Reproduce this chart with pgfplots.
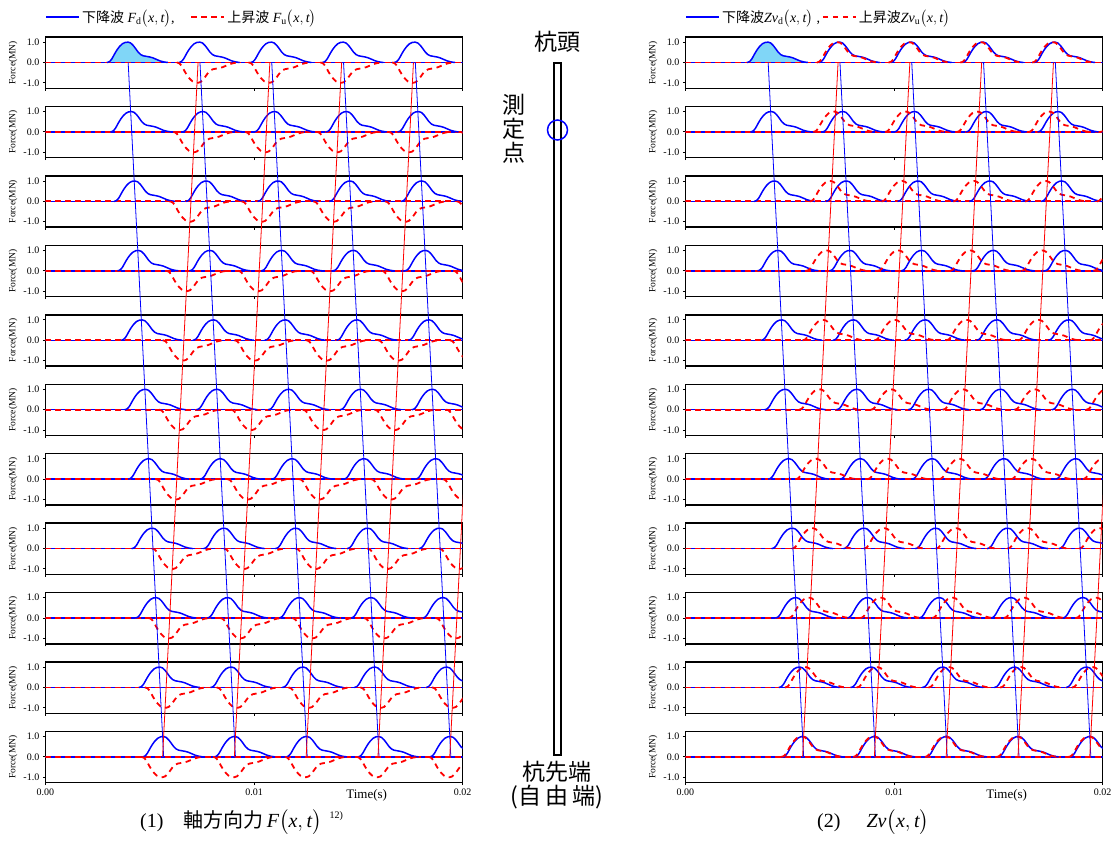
\documentclass[border=0pt]{standalone}
\usepackage{fontspec}
\usepackage{amsmath}
\usepackage{pgfplots}
\usepackage{pgfplotstable}
\pgfplotsset{compat=1.18}
\setmainfont{Liberation Serif}
\newfontfamily\cjk{Noto Sans CJK JP}
\newcommand{\mi}[1]{\textit{#1}}

% pulse shape, time in ms relative to the peak
\pgfplotstableread{
t      fd     fu
-1.02  0      0
-0.90  0.04  -0.04
-0.78  0.18  -0.18
-0.64  0.44  -0.44
-0.52  0.64  -0.64
-0.40  0.80  -0.80
-0.28  0.92  -0.92
-0.14  0.99  -0.99
 0.00  1.00  -1.00
 0.12  0.96  -0.96
 0.24  0.84  -0.84
 0.36  0.68  -0.68
 0.48  0.51  -0.51
 0.60  0.39  -0.39
 0.72  0.33  -0.33
 0.88  0.30  -0.30
 1.04  0.27  -0.27
 1.18  0.23  -0.23
 1.34  0.16  -0.16
 1.52  0.08  -0.08
 1.70  0.03  -0.03
 1.90  0      0
}\pulse

\pgfplotsset{
  bw/.style={blue, line width=1.5pt},
  rw/.style={red, line width=1.8pt, dash pattern=on 5.5pt off 4.5pt},
  thinb/.style={blue, line width=0.8pt},
  thinr/.style={red, line width=0.8pt},
  legend image code/.code={\draw[#1] (0pt,0pt) -- (33pt,0pt);},
  rowax/.style={
    scale only axis, width=417.4pt, height=51.2pt, anchor=south west,
    xmin=0, xmax=20, ymin=-1.27, ymax=1.25,
    axis line style={line width=1.5pt},
    xtick={0,10,20}, ytick={-1,0,1}, yticklabels={-1.0,0.0,1.0},
    tick pos=left, tick align=outside, major tick length=2.5pt,
    tick style={black, line width=1pt},
    ticklabel style={font=\fontsize{10}{11}\selectfont},
    ylabel={Force(MN)},
    ylabel style={font=\fontsize{9.5}{10}\selectfont,
      at={(axis description cs:-0.077,0.5)}, anchor=center},
  },
  midrow/.style={xticklabels={}},
  botrow/.style={xticklabels={0.00,0.01,0.02}, xlabel={Time(s)},
    xlabel style={font=\fontsize{13}{14}\selectfont,
      at={(axis description cs:0.77,0)}, anchor=north, yshift=-3pt}},
  ovax/.style={
    scale only axis, width=417.4pt, height=745.7pt, anchor=south west,
    xmin=0, xmax=20, ymin=-10.3744, ymax=0.3643, hide axis,
    legend columns=2, legend cell align=left,
    legend style={draw=none, fill=none, at={(0,1)}, anchor=west,
      yshift=20pt, inner sep=0pt, nodes={inner ysep=0pt},
      font=\fontsize{14}{16}\selectfont},
  },
}

% #1 x origin, #2 y origin, #3 style, #4 peaks of the down wave,
% #5 peaks of the up wave, #6 column of the up wave, #7 extra plots
\newcommand{\prow}[7]{%
  \begin{axis}[rowax, at={(#1pt,#2pt)}, #3]
    #7
    \addplot[black, line width=1.2pt] coordinates {(0,0) (20,0)};
    \addplot[bw] coordinates {(0,0) (20,0)};
    \addplot[rw] coordinates {(0,0) (20,0)};
    \pgfplotsinvokeforeach{#4}{\addplot[bw, smooth] table[x expr=\thisrow{t}+##1, y=fd] {\pulse};}
    \pgfplotsinvokeforeach{#5}{\addplot[rw, smooth] table[x expr=\thisrow{t}+##1, y=#6] {\pulse};}
  \end{axis}}

% #1 x origin, #2 #3 legend texts, #4 gap between the two entries
\newcommand{\ovl}[4]{%
  \begin{axis}[ovax, at={(#1pt,58.3pt)}, legend entries={{#2},{#3}},
      legend style={/tikz/every even column/.append style={column sep=#4}}]
    \addlegendimage{bw}
    \addlegendimage{rw}
    \addplot[thinb] coordinates {(3.97,0) (5.67,-10)};
    \addplot[thinb] coordinates {(7.41,0) (9.11,-10)};
    \addplot[thinb] coordinates {(10.85,0) (12.55,-10)};
    \addplot[thinb] coordinates {(14.29,0) (15.99,-10)};
    \addplot[thinb] coordinates {(17.73,0) (19.43,-10)};
    \addplot[thinr] coordinates {(5.62,-10) (7.32,0)};
    \addplot[thinr] coordinates {(9.06,-10) (10.76,0)};
    \addplot[thinr] coordinates {(12.50,-10) (14.20,0)};
    \addplot[thinr] coordinates {(15.94,-10) (17.64,0)};
    \addplot[thinr] coordinates {(19.38,-10) (21.08,0)};
  \end{axis}}

\begin{document}
\begin{tikzpicture}
\useasboundingbox (0pt,0pt) rectangle (1116pt,841pt);

% left panel: F
\prow{45.3}{752.70}{midrow}{3.97,7.41,10.85,14.29,17.73}{7.32,10.76,14.20,17.64,21.08}{fu}
  {\addplot[draw=none, fill=cyan!50, smooth] table[x expr=\thisrow{t}+3.97, y=fd] {\pulse} -- cycle;}
\prow{45.3}{683.26}{midrow}{4.14,7.58,11.02,14.46,17.90}{7.15,10.59,14.03,17.47,20.91}{fu}{}
\prow{45.3}{613.82}{midrow}{4.31,7.75,11.19,14.63,18.07}{6.98,10.42,13.86,17.30,20.74}{fu}{}
\prow{45.3}{544.38}{midrow}{4.48,7.92,11.36,14.80,18.24}{6.81,10.25,13.69,17.13,20.57}{fu}{}
\prow{45.3}{474.94}{midrow}{4.65,8.09,11.53,14.97,18.41}{6.64,10.08,13.52,16.96,20.40}{fu}{}
\prow{45.3}{405.50}{midrow}{4.82,8.26,11.70,15.14,18.58}{6.47,9.91,13.35,16.79,20.23}{fu}{}
\prow{45.3}{336.06}{midrow}{4.99,8.43,11.87,15.31,18.75}{6.30,9.74,13.18,16.62,20.06}{fu}{}
\prow{45.3}{266.62}{midrow}{5.16,8.60,12.04,15.48,18.92}{6.13,9.57,13.01,16.45,19.89}{fu}{}
\prow{45.3}{197.18}{midrow}{5.33,8.77,12.21,15.65,19.09}{5.96,9.40,12.84,16.28,19.72}{fu}{}
\prow{45.3}{127.74}{midrow}{5.50,8.94,12.38,15.82,19.26}{5.79,9.23,12.67,16.11,19.55}{fu}{}
\prow{45.3}{58.30}{botrow}{5.67,9.11,12.55,15.99,19.43}{5.62,9.06,12.50,15.94,19.38}{fu}{}

% right panel: Zv
\prow{685.3}{752.70}{midrow}{3.97,7.41,10.85,14.29,17.73}{7.32,10.76,14.20,17.64,21.08}{fd}
  {\addplot[draw=none, fill=cyan!50, smooth] table[x expr=\thisrow{t}+3.97, y=fd] {\pulse} -- cycle;}
\prow{685.3}{683.26}{midrow}{4.14,7.58,11.02,14.46,17.90}{7.15,10.59,14.03,17.47,20.91}{fd}{}
\prow{685.3}{613.82}{midrow}{4.31,7.75,11.19,14.63,18.07}{6.98,10.42,13.86,17.30,20.74}{fd}{}
\prow{685.3}{544.38}{midrow}{4.48,7.92,11.36,14.80,18.24}{6.81,10.25,13.69,17.13,20.57}{fd}{}
\prow{685.3}{474.94}{midrow}{4.65,8.09,11.53,14.97,18.41}{6.64,10.08,13.52,16.96,20.40}{fd}{}
\prow{685.3}{405.50}{midrow}{4.82,8.26,11.70,15.14,18.58}{6.47,9.91,13.35,16.79,20.23}{fd}{}
\prow{685.3}{336.06}{midrow}{4.99,8.43,11.87,15.31,18.75}{6.30,9.74,13.18,16.62,20.06}{fd}{}
\prow{685.3}{266.62}{midrow}{5.16,8.60,12.04,15.48,18.92}{6.13,9.57,13.01,16.45,19.89}{fd}{}
\prow{685.3}{197.18}{midrow}{5.33,8.77,12.21,15.65,19.09}{5.96,9.40,12.84,16.28,19.72}{fd}{}
\prow{685.3}{127.74}{midrow}{5.50,8.94,12.38,15.82,19.26}{5.79,9.23,12.67,16.11,19.55}{fd}{}
\prow{685.3}{58.30}{botrow}{5.67,9.11,12.55,15.99,19.43}{5.62,9.06,12.50,15.94,19.38}{fd}{}

% travel lines and legends
\ovl{45.3}{{\cjk 下降波} $\mi{F}_{\text{d}}\bigl(\mi{x},\mi{t}\bigr)$,}{{\cjk 上昇波} $\mi{F}_{\text{u}}\bigl(\mi{x},\mi{t}\bigr)$}{14pt}
\ovl{685.3}{{\cjk 下降波}$\mi{Zv}_{\text{d}}\bigl(\mi{x},\mi{t}\bigr)$ ,}{{\cjk 上昇波}$\mi{Zv}_{\text{u}}\bigl(\mi{x},\mi{t}\bigr)$}{0pt}

% pile sketch and captions, in pixel coordinates
\begin{axis}[scale only axis, width=1116pt, height=841pt, at={(0pt,0pt)},
    anchor=south west, xmin=0, xmax=1116, ymin=0, ymax=841,
    y dir=reverse, hide axis, clip=false]
  \addplot[black, line width=1.5pt, fill=white] coordinates
    {(554,63) (561,63) (561,755) (554,755)} -- cycle;
  \addplot[blue, only marks, mark=o, mark size=10pt,
    mark options={line width=1.5pt}] coordinates {(557.5,130)};
  \node[font=\cjk\fontsize{23}{24}\selectfont] at (557,42) {杭頭};
  \node[font=\cjk\fontsize{23}{24}\selectfont, align=center] at (513.5,129) {測\\定\\点};
  \node[font=\cjk\fontsize{23}{24}\selectfont] at (557,772) {杭先端};
  \node[font=\cjk\fontsize{23}{24}\selectfont] at (557,797) {(自\,由\,端)};
  \node[anchor=base west, inner sep=0pt, font=\fontsize{20}{24}\selectfont] at (140,827)
    {(1)\hspace{20pt}{\cjk 軸方向力}\,$\mi{F}\bigl(\mi{x},\mi{t}\bigr)$\hspace{8pt}\raisebox{9pt}{\fontsize{10}{12}\selectfont 12)}};
  \node[anchor=base west, inner sep=0pt, font=\fontsize{20}{24}\selectfont] at (817,827)
    {(2)\hspace{26pt}$\mi{Zv}\bigl(\mi{x},\mi{t}\bigr)$};
\end{axis}
\end{tikzpicture}
\end{document}
